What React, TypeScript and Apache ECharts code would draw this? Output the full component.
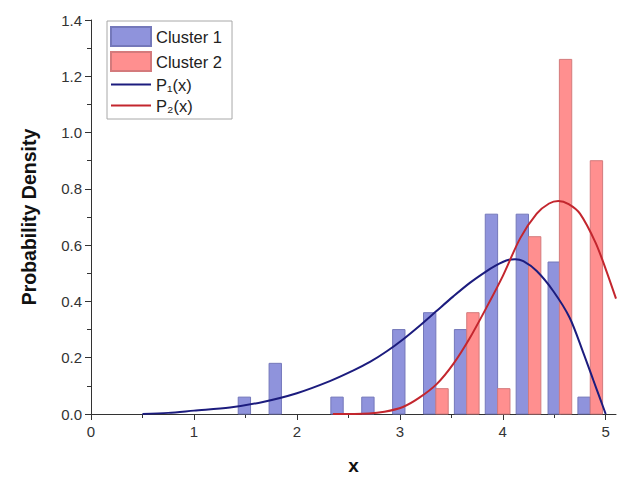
import React, { useEffect, useRef } from "react";
import * as echarts from "echarts";

// Histogram bar centres and heights (probability density)
const cluster1X = [1.49, 1.79, 2.39, 2.69, 2.99, 3.29, 3.59, 3.89, 4.19, 4.5, 4.79];
const cluster1Y = [0.06, 0.18, 0.06, 0.06, 0.3, 0.36, 0.3, 0.71, 0.71, 0.54, 0.06];
const cluster2X = [3.41, 3.71, 4.01, 4.31, 4.61, 4.91];
const cluster2Y = [0.09, 0.36, 0.09, 0.63, 1.26, 0.9];

// Fitted density curves
const p1X = [0.5, 0.75, 1.0, 1.35, 1.67, 2.0, 2.32, 2.55, 2.71, 2.87, 3.03, 3.19, 3.35, 3.52, 3.68, 3.84, 3.93, 4.0, 4.06, 4.12, 4.2, 4.33, 4.49, 4.65, 4.78, 4.88, 4.95, 5.0];
const p1Y = [0, 0.004, 0.012, 0.023, 0.043, 0.074, 0.117, 0.155, 0.185, 0.222, 0.265, 0.313, 0.364, 0.418, 0.466, 0.507, 0.527, 0.54, 0.548, 0.55, 0.543, 0.508, 0.437, 0.342, 0.22, 0.12, 0.05, 0];
const p2X = [2.35, 2.7, 2.85, 3.03, 3.19, 3.36, 3.52, 3.68, 3.84, 4.0, 4.17, 4.33, 4.45, 4.54, 4.64, 4.75, 4.9, 5.0, 5.1];
const p2Y = [0, 0.002, 0.008, 0.025, 0.058, 0.107, 0.178, 0.27, 0.377, 0.49, 0.625, 0.712, 0.748, 0.757, 0.746, 0.712, 0.61, 0.515, 0.41];

const xMajorTicks = [0, 1, 2, 3, 4, 5];
const xMinorTicks = [0.5, 1.5, 2.5, 3.5, 4.5];

const BAR_W = 0.12;
const FONT = "'Liberation Sans', Arial, sans-serif";
const LINE_ICON = "path://M0,0 L40,0 L40,2 L0,2 Z";

const zip = (a: number[], b: number[]) => a.map((v, i) => [v, b[i]]);

function barSeries(name: string, xs: number[], ys: number[], fill: string, stroke: string) {
  return {
    name,
    type: "custom",
    xAxisIndex: 0,
    yAxisIndex: 0,
    itemStyle: { color: fill, borderColor: stroke, borderWidth: 1 },
    encode: { x: 0, y: 1 },
    data: zip(xs, ys),
    renderItem: (_p: any, api: any) => {
      const x = api.value(0);
      const y = api.value(1);
      const a = api.coord([x - BAR_W / 2, y]);
      const b = api.coord([x + BAR_W / 2, 0]);
      return {
        type: "rect",
        shape: { x: a[0], y: a[1], width: b[0] - a[0], height: b[1] - a[1] },
        style: { fill, stroke, lineWidth: 1 },
      };
    },
  };
}

export default function App() {
  const ref = useRef<HTMLDivElement>(null);
  useEffect(() => {
    if (!ref.current) return;
    const chart = echarts.init(ref.current, undefined, { renderer: "svg" });
    const axisColor = "#333";
    chart.setOption({
      animation: false,
      backgroundColor: "#fff",
      textStyle: { fontFamily: FONT },
      grid: { left: 91, top: 20, right: 1, bottom: 63 },
      legend: {
        orient: "vertical",
        left: 107,
        top: 21,
        padding: [5, 10, 5, 3],
        itemGap: 4,
        itemWidth: 40,
        itemHeight: 19,
        symbolKeepAspect: true,
        borderColor: "#a8a8a8",
        borderWidth: 1,
        textStyle: { fontSize: 16.5, color: "#222", fontFamily: FONT },
        data: [
          { name: "Cluster 1", icon: "rect" },
          { name: "Cluster 2", icon: "rect" },
          { name: "P₁(x)", icon: LINE_ICON },
          { name: "P₂(x)", icon: LINE_ICON },
        ],
      },
      xAxis: [
        {
          type: "value",
          min: 0,
          max: 5.1,
          interval: 1,
          name: "x",
          nameLocation: "middle",
          nameGap: 42,
          nameTextStyle: { fontSize: 19, fontWeight: "bold", color: "#111", fontFamily: FONT },
          axisLine: { show: true, onZero: false, lineStyle: { color: axisColor, width: 1 } },
          axisTick: { show: true, length: 6, customValues: xMajorTicks, lineStyle: { color: axisColor } },
          axisLabel: { customValues: xMajorTicks, fontSize: 15, color: "#333", margin: 10, fontFamily: FONT },
          splitLine: { show: false },
        },
        {
          type: "value",
          min: 0,
          max: 5.1,
          position: "bottom",
          axisLine: { show: false },
          axisTick: { show: true, length: 4, customValues: xMinorTicks, lineStyle: { color: axisColor } },
          axisLabel: { show: false },
          splitLine: { show: false },
        },
      ],
      yAxis: {
        type: "value",
        min: 0,
        max: 1.4,
        interval: 0.2,
        name: "Probability Density",
        nameLocation: "middle",
        nameGap: 52,
        nameTextStyle: { fontSize: 19.5, fontWeight: "bold", color: "#111", fontFamily: FONT },
        axisLine: { show: true, lineStyle: { color: axisColor, width: 1 } },
        axisTick: { show: true, length: 6, lineStyle: { color: axisColor } },
        minorTick: { show: true, splitNumber: 2, length: 4, lineStyle: { color: axisColor } },
        axisLabel: {
          fontSize: 15,
          color: "#333",
          margin: 9,
          fontFamily: FONT,
          formatter: (v: number) => v.toFixed(1),
        },
        splitLine: { show: false },
      },
      series: [
        barSeries("Cluster 1", cluster1X, cluster1Y, "#8f93dc", "#7478ba"),
        barSeries("Cluster 2", cluster2X, cluster2Y, "#ff8f8f", "#d47a7c"),
        {
          name: "P₁(x)",
          type: "line",
          smooth: 0.3,
          symbol: "none",
          data: zip(p1X, p1Y),
          lineStyle: { color: "#1c1c7e", width: 2 },
          itemStyle: { color: "#1c1c7e" },
        },
        {
          name: "P₂(x)",
          type: "line",
          smooth: 0.3,
          symbol: "none",
          data: zip(p2X, p2Y),
          lineStyle: { color: "#c3262e", width: 2 },
          itemStyle: { color: "#c3262e" },
        },
      ],
    });
    return () => chart.dispose();
  }, []);
  return (
    <div
      ref={ref}
      style={{ position: "fixed", left: 0, top: 0, width: 617, height: 480, background: "#fff" }}
    />
  );
}
